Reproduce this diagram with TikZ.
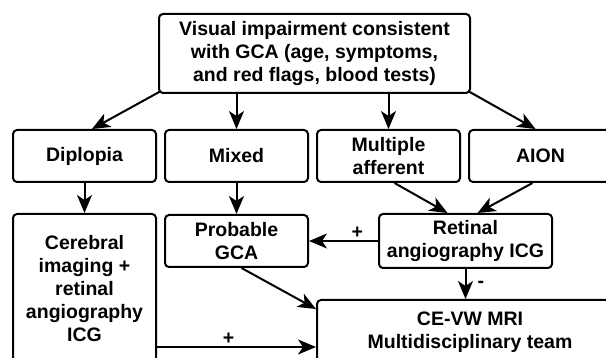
\documentclass[tikz,border=0pt]{standalone}
\usepackage{fontspec}
\setmainfont{Liberation Sans}
\usetikzlibrary{arrows.meta}

\begin{document}
\begin{tikzpicture}[x=1pt, y=-1pt, node distance=152pt, line width=2pt,
                    arrow/.style={-{Stealth[length=18pt,width=15pt,inset=5pt]}},
                    main node/.style={draw,rounded corners=4pt,align=center,inner sep=0pt,
                      font=\fontsize{19.5}{23}\selectfont\bfseries,
                      minimum width=143pt,minimum height=52pt},
                    sign/.style={inner sep=1pt,font=\fontsize{19.5}{23}\selectfont\bfseries}]

  \path[use as bounding box,clip] (0,0) rectangle (606,358);

  \node[main node,minimum width=311pt,minimum height=79pt] (1) at (314.5,53.5)
    {Visual impairment consistent\\with GCA (age, symptoms,\\and red flags, blood tests)};
  \node[main node] (2) at (84.5,156) {Diplopia};
    \node[main node] (3) [right of=2] {Mixed};
      \node[main node] (4) [right of=3] {Multiple\\afferent};
        \node[main node] (5) [right of=4] {AION};
  \node[main node,minimum height=150pt] (6) at (84.5,289)
    {Cerebral\\imaging +\\retinal\\angiography\\ICG};
    \node[main node] (7) [below of=3,node distance=85pt] {Probable\\GCA};
      \node[main node,minimum width=173pt,minimum height=54pt] (8) at (465.5,241)
        {Retinal\\angiography ICG};
  \node[main node,minimum width=306pt,minimum height=64pt] (9) at (470,332)
    {CE-VW MRI\\Multidisciplinary team};

  % from the top box
  \draw[arrow] ([xshift=3pt,yshift=3pt]1.south west) -- ([xshift=7.5pt]2.north);
  \draw[arrow] (3.north |- 1.south) -- (3.north);
  \draw[arrow] (4.north |- 1.south) -- (4.north);
  \draw[arrow] ([xshift=-3pt,yshift=3pt]1.south east) -- ([xshift=-5pt]5.north);

  % second row down
  \draw[arrow] (2) -- (6);
  \draw[arrow] (3) -- (7);
  \draw[arrow] ([xshift=6pt]4.south) -- ([xshift=-18pt]8.north);
  \draw[arrow] ([xshift=-8pt]5.south) -- ([xshift=12pt]8.north);

  % to the MRI
  \draw[arrow] (8) -- node[sign,above,pos=0.3] {+} (7);
  \draw[arrow] (8.south) -- node[sign,right,xshift=10pt] {-} (8.south |- 9.north);
  \draw[arrow] ([xshift=5pt]7.south) -- ([yshift=-10pt]9.north west);
  \draw[arrow] ([yshift=18pt]6.south east) -- node[sign,above,pos=0.45] {+}
    ([yshift=18pt]6.south east -| 9.west);

\end{tikzpicture}
\end{document}
